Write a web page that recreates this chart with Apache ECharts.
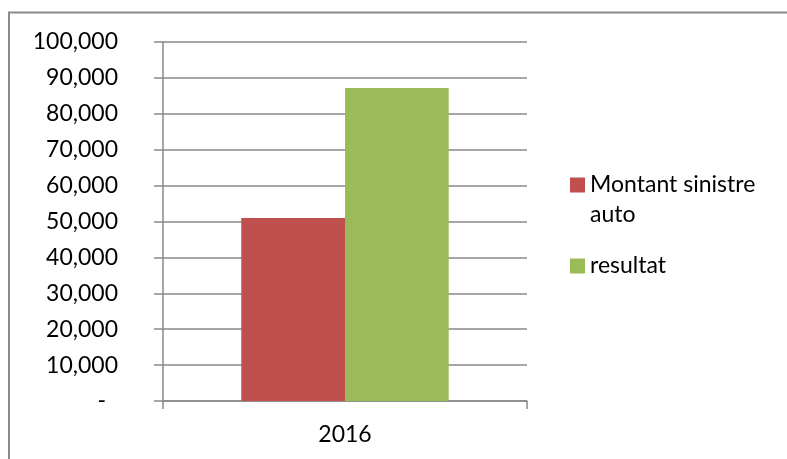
<!DOCTYPE html>
<html>
<head>
<meta charset="utf-8">
<script src="https://cdn.jsdelivr.net/npm/echarts@6/dist/echarts.min.js"></script>
<style>
  html, body { margin: 0; padding: 0; background: #fff; }
  #main { width: 787px; height: 459px; }
</style>
</head>
<body>
<div id="main"></div>
<script>
// données
var categories = ['2016'];
var seriesNames = ['Montant sinistre auto', 'resultat'];
var montantSinistre = [51000];
var resultat = [87200];
var yMin = 0, yMax = 100000, yStep = 10000;

var myChart = echarts.init(document.getElementById('main'));

var option = {
    backgroundColor: '#fff',
    animation: false,
    color: ['#C0504D', '#9BBB59'],
    textStyle: { fontFamily: 'Lato', color: '#000' },
    grid: { left: 163, right: 260, top: 42, bottom: 58 },
    legend: {
        orient: 'vertical',
        left: 570,
        top: 140,
        padding: 0,
        itemGap: 21,
        itemWidth: 15,
        itemHeight: 15,
        icon: 'rect',
        textStyle: { fontFamily: 'Lato', fontSize: 23, color: '#000', lineHeight: 30 },
        data: seriesNames,
        // ligne vide devant pour aligner le carré sur la 1ere ligne
        formatter: function (name) {
            return name === 'Montant sinistre auto' ? '\nMontant sinistre\nauto' : name;
        }
    },
    xAxis: {
        type: 'category',
        data: categories,
        axisLine: { lineStyle: { color: '#898989', width: 1.5 } },
        axisTick: { show: true, length: 8, lineStyle: { color: '#898989', width: 1.5 } },
        axisLabel: { fontFamily: 'Lato', fontSize: 23, color: '#000', margin: 22 }
    },
    yAxis: {
        type: 'value',
        min: yMin,
        max: yMax,
        interval: yStep,
        axisLine: { show: true, lineStyle: { color: '#898989', width: 1.5 } },
        axisTick: { show: true, length: 9, lineStyle: { color: '#898989', width: 1.5 } },
        splitLine: { lineStyle: { color: '#898989', width: 1.5 } },
        axisLabel: {
            fontFamily: 'Lato',
            fontSize: 23,
            color: '#000',
            margin: 45,
            formatter: function (v) {
                if (v === 0) return '{d|-}';
                return v.toLocaleString('en-US');
            },
            rich: {
                d: { fontFamily: 'Lato', fontSize: 23, color: '#000', padding: [0, 12, 0, 0] }
            }
        }
    },
    graphic: [{
        type: 'rect',
        shape: { x: 9, y: 12.5, width: 2000, height: 2000 },
        style: { fill: 'none', stroke: '#8a8a8a', lineWidth: 2 },
        silent: true
    }],
    series: [
        {
            name: seriesNames[0],
            type: 'bar',
            data: montantSinistre,
            barGap: 0,
            barCategoryGap: '43%'
        },
        {
            name: seriesNames[1],
            type: 'bar',
            data: resultat,
            barGap: 0,
            barCategoryGap: '43%'
        }
    ]
};

myChart.setOption(option);
</script>
</body>
</html>
